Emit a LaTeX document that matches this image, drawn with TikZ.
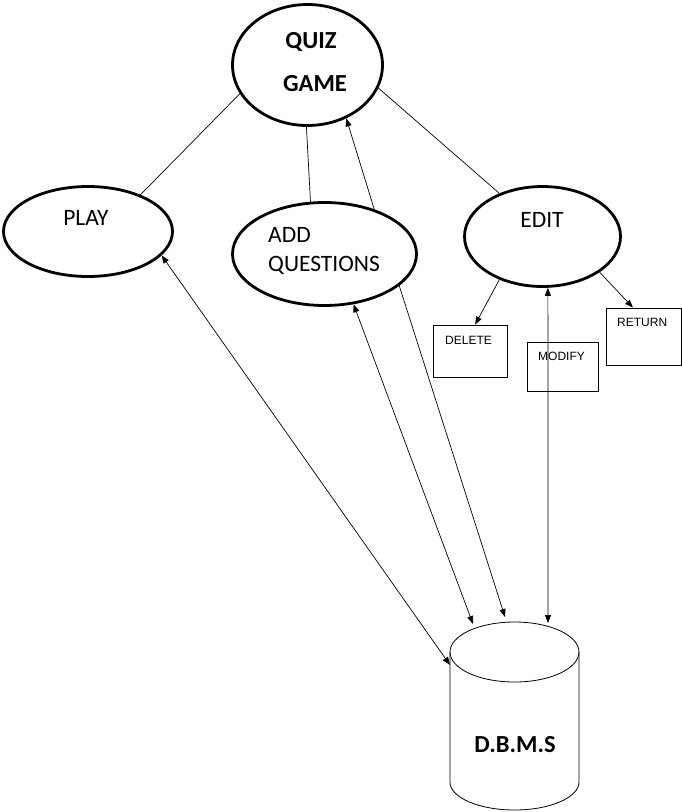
\documentclass[tikz,border=0pt]{standalone}
\usepackage{fontspec}
\setmainfont{Carlito}
\newfontfamily\boxfont{Liberation Sans}
\usetikzlibrary{arrows.meta,shapes.geometric}
\begin{document}
\begin{tikzpicture}[x=1pt,y=-1pt,
  oval/.style={ellipse, draw, line width=2.8pt, inner sep=0pt},
  conn/.style={line width=0.7pt},
  tip/.tip={Triangle[length=8pt,width=6pt]},
  arr/.style={conn, -tip},
  darr/.style={conn, tip-tip},
  boxnode/.style={draw, line width=0.8pt, inner sep=0pt},
  bigtext/.style={font=\fontsize{23.5}{27}\selectfont, anchor=base, inner sep=0pt},
  boldtext/.style={font=\fontsize{24.5}{28}\selectfont\bfseries, anchor=base, inner sep=0pt},
  smalltext/.style={font=\boxfont\fontsize{12}{14}\selectfont, anchor=base west, inner sep=0pt}]
\fill[white] (0,0) rectangle (682,812);
\useasboundingbox (0,0) rectangle (682,812);

% ellipses
\node[oval, minimum width=150pt, minimum height=121pt] (quiz) at (307.5,65) {};
\node[oval, minimum width=169pt, minimum height=90pt] (play) at (88,231.5) {};
\node[oval, minimum width=184pt, minimum height=103pt] (addq) at (324.5,254) {};
\node[oval, minimum width=156pt, minimum height=100pt] (edit) at (542.5,236.5) {};

% texts of ellipses
\node[boldtext] (tquiz) at (311,48) {QUIZ};
\node[boldtext] (tgame) at (315,91) {GAME};
\node[bigtext] (tplay) at (86,225) {PLAY};
\node[bigtext, anchor=base west] (tadd) at (268,242) {ADD};
\node[bigtext, anchor=base west] (tques) at (268,271) {QUESTIONS};
\node[bigtext] (tedit) at (542,227) {EDIT};

% boxes
\node[boxnode, minimum width=74pt, minimum height=52pt] (delete) at (470,351) {};
\node[boxnode, minimum width=71pt, minimum height=49pt] (modify) at (562.5,366.5) {};
\node[boxnode, minimum width=75pt, minimum height=57pt] (return) at (643.5,336.5) {};
\node[smalltext] (tdelete) at (445,344) {DELETE};
\node[smalltext] (tmodify) at (538,360) {MODIFY};
\node[smalltext] (treturn) at (617,326) {RETURN};

% cylinder (D.B.M.S)
\draw[line width=0.8pt] (514.5,652) ellipse [x radius=64.5, y radius=30];
\draw[line width=0.8pt] (450,652) -- (450,782) arc[start angle=180, end angle=360, x radius=64.5, y radius=-28] -- (579,652);
\node[boldtext] (tdbms) at (515,752) {D.B.M.S};
\coordinate (dbplay) at (450,665);
\coordinate (dbaddq) at (473,624);
\coordinate (dbaddq2) at (505,617);
\coordinate (dbedit) at (548,623);

% plain connectors
\draw[conn] (quiz.203.4) -- (play.35.5);
\draw[conn] (quiz.269) -- (addq.105.3);
\draw[conn] (quiz.342.4) -- (edit.135.6);

% arrows
\draw[arr] (addq.42.9) -- (quiz.306.4);
\draw[darr] (play.342.6) -- (dbplay);
\draw[darr] (addq.300.4) -- (dbaddq);
\draw[arr] (addq.337.7) -- (dbaddq2);
\draw[darr] (edit.276.1) -- (dbedit);
\draw[arr] (edit.225.6) -- (delete.79);
\draw[arr] (edit.328.5) -- (return.110.7);
\end{tikzpicture}
\end{document}
